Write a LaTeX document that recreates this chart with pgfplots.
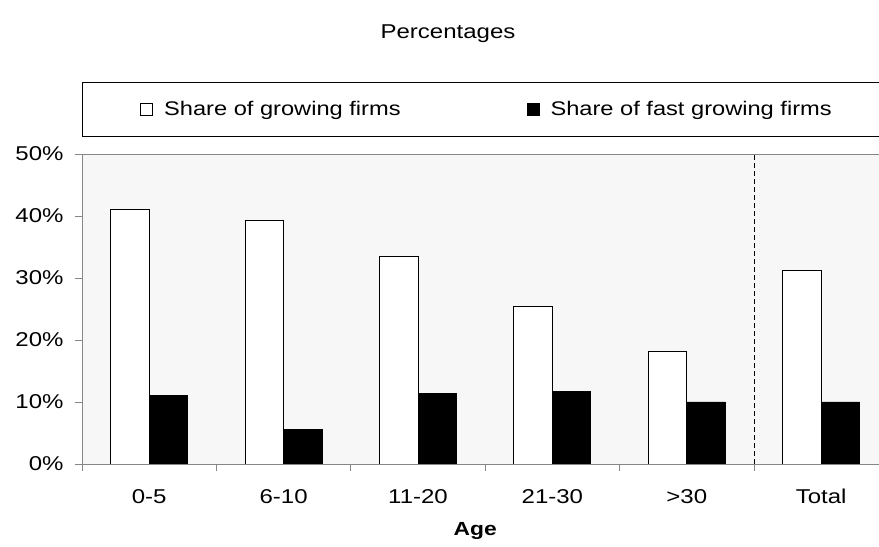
\documentclass[border=0pt]{standalone}
\usepackage{fontspec}
\setmainfont{Liberation Sans}[FakeStretch=1.2]
\usepackage{pgfplots}
\pgfplotsset{compat=1.18}

\definecolor{plotbg}{HTML}{F7F7F7}
\definecolor{framegray}{HTML}{868686}

\newcommand{\ticksize}{\fontsize{20bp}{24bp}\selectfont}
\newcommand{\legsize}{\fontsize{19.7bp}{24bp}\selectfont}

\begin{document}
\begin{tikzpicture}[x=1bp,y=1bp]
\useasboundingbox (0,0) rectangle (879,547);

% title
\node[font=\fontsize{20bp}{24bp}\selectfont] at (448,513) {Percentages};

% legend frame
\draw[black, line width=0.9bp] (82,411) rectangle (900,465);

\begin{axis}[
  at={(82bp,83bp)}, anchor=south west,
  scale only axis, width=806.4bp, height=310bp,
  xmin=-0.5, xmax=5.5, ymin=0, ymax=50,
  axis background/.style={fill=plotbg},
  axis line style={framegray, line width=0.9bp},
  tick align=outside,
  ytick={0,10,...,50},
  ytick pos=left,
  yticklabel={\pgfmathprintnumber{\tick}\%},
  xtick={-0.5,0.5,...,5.5},
  xticklabels={0-5,6-10,11-20,21-30,>30,Total},
  x tick label as interval,
  xtick pos=bottom,
  major tick length=7bp,
  tick style={framegray, line width=0.9bp},
  /pgf/number format/assume math mode=true,
  ticklabel style={font=\ticksize, text=black},
  yticklabel style={xshift=-8bp},
  xticklabel style={yshift=-14bp, text height=15bp, text depth=4bp},
  xlabel={\textbf{Age}},
  xlabel style={font=\fontsize{19bp}{23bp}\selectfont, yshift=-8bp, xshift=-10bp},
  ybar, bar width=38.5bp,
  sqlegend/.style={legend image code/.code={\draw[##1, line width=0.9bp] (0bp,-6bp) rectangle (12bp,6bp);}},
  legend columns=2,
  legend style={draw=none, fill=none, font=\legsize, anchor=west,
    at={(0.072,1.145)}, inner sep=0pt,
    /tikz/every odd column/.append style={column sep=9bp},
    /tikz/every even column/.append style={column sep=124bp}},
]
\addplot[sqlegend, bar shift=-19.25bp, fill=white, draw=black, line width=0.9bp]
  coordinates {(0,41.0) (1,39.3) (2,33.5) (3,25.4) (4,18.1) (5,31.2)};
\addlegendentry{Share of growing firms}
\addplot[sqlegend, bar shift=19.25bp, fill=black, draw=black, line width=0.9bp]
  coordinates {(0,11.0) (1,5.6) (2,11.4) (3,11.7) (4,10.0) (5,10.0)};
\addlegendentry{Share of fast growing firms}

% separator before the total
\draw[black, line width=1bp, dash pattern=on 5bp off 3bp] (axis cs:4.5,0) -- (axis cs:4.5,50);
% darker base line
\draw[black!80, line width=0.9bp] (axis cs:-0.5,0) -- (axis cs:5.5,0);
\end{axis}
\end{tikzpicture}
\end{document}
